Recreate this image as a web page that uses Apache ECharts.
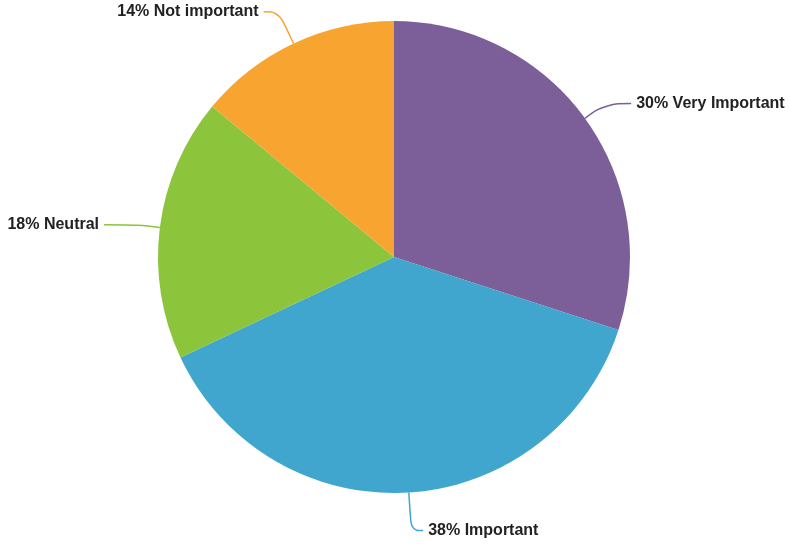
<!DOCTYPE html>
<html><head><meta charset="utf-8">
<script src="https://cdn.jsdelivr.net/npm/echarts@6/dist/echarts.min.js"></script>
<style>html,body{margin:0;padding:0;background:#fff}#c{width:790px;height:551px}</style>
</head><body><div id="c"></div>
<script>
const categories = ['Very Important', 'Important', 'Neutral', 'Not important'];
const values = [30, 38, 18, 14];
const colors = ['#7c5e98', '#40a6cd', '#8cc43c', '#f7a530'];
const lineLen = [[25, 26], [38, 12], [22, 34], [35, 15]];

const chart = echarts.init(document.getElementById('c'));
chart.setOption({
  animation: false,
  series: [{
    type: 'pie',
    center: [394, 257],
    radius: 236,
    startAngle: 90,
    clockwise: true,
    data: categories.map((n, i) => ({
      name: n, value: values[i],
      itemStyle: { color: colors[i] },
      labelLine: { length: lineLen[i][0], length2: lineLen[i][1] }
    })),
    label: {
      formatter: p => p.value + '% ' + p.name,
      fontFamily: 'Liberation Sans, Arial, sans-serif',
      fontWeight: 'bold',
      fontSize: 16,
      color: '#222',
      overflow: 'none',
      width: 200
    },
    labelLine: { smooth: 0.4, lineStyle: { width: 1.5 } }
  }]
});
</script></body></html>
